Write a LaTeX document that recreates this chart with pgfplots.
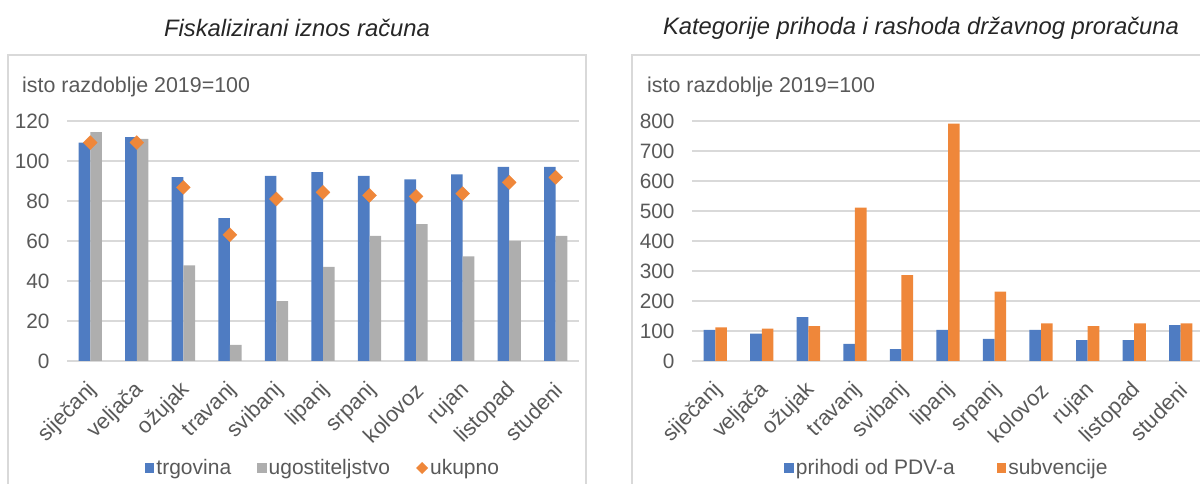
\documentclass[border=0pt]{standalone}
\usepackage{fontspec}
\setmainfont{Liberation Sans}
\usepackage{pgfplots}
\pgfplotsset{compat=1.18}
\definecolor{cblue}{HTML}{4F7CC2}
\definecolor{cgray}{HTML}{AEAEAE}
\definecolor{corange}{HTML}{EF873A}
\definecolor{gridc}{HTML}{D9D9D9}
\definecolor{tickc}{HTML}{595959}
\definecolor{titlec}{HTML}{262626}
\newcommand{\tfont}{\fontsize{20.8}{24}\selectfont}
\newcommand{\xfont}{\fontsize{21.8}{24}\selectfont}
\newcommand{\lfont}{\fontsize{21}{24}\selectfont}
\pgfplotsset{
  panel/.style={
    scale only axis, width=512pt, height=240pt,
    anchor=south west,
    xmin=-0.5, xmax=10.5, ymin=0,
    xtick={0,...,10},
    xticklabels={siječanj,veljača,ožujak,travanj,svibanj,lipanj,srpanj,kolovoz,rujan,listopad,studeni},
    ymajorgrids, grid style={draw=gridc, line width=1.6pt},
    axis line style={draw=none},
    major tick length=0pt,
    /pgf/number format/assume math mode=true,
    tick label style={font=\tfont, text=tickc},
    yticklabel style={xshift=-14pt},
    xticklabel style={font=\xfont, xshift=4pt, yshift=-25pt, rotate=45, anchor=east, inner sep=1pt},
    legend style={draw=none, fill=none, font=\lfont, text=tickc,
      anchor=center, legend columns=-1,
      nodes={inner sep=2pt}},
    clip=false,
  },
  sqleg/.style={legend image code/.code={\fill[#1] (0pt,-4.8pt) rectangle (9.5pt,4.8pt);}},
}
\begin{document}
\begin{tikzpicture}[x=1pt,y=1pt]
\useasboundingbox (0,0) rectangle (1200,484);
\begin{scope}
\clip (0,0) rectangle (1200,484);
\draw[gridc, line width=1.6pt] (8,-20) rectangle (586,429);
\draw[gridc, line width=1.6pt] (632,-20) rectangle (1240,429);
\end{scope}
\node[font=\fontsize{23.8}{26}\selectfont\itshape, text=titlec] at (297,456) {Fiskalizirani iznos računa};
\node[font=\fontsize{23.8}{26}\selectfont\itshape, text=titlec] at (921,456) {Kategorije prihoda i rashoda državnog proračuna};
\node[font=\fontsize{21.4}{24}\selectfont, text=tickc, anchor=base west, inner sep=0pt] at (22,391) {isto razdoblje 2019=100};
\node[font=\fontsize{21.4}{24}\selectfont, text=tickc, anchor=base west, inner sep=0pt] at (647,391) {isto razdoblje 2019=100};

\begin{axis}[panel, at={(67pt,123pt)}, ymax=120, ytick={0,20,...,120},
  legend style={at={(0.500,-0.446)}, /tikz/every even column/.append style={column sep=24pt}}]
\addplot[ybar, bar width=0.25, bar shift=-0.125, fill=cblue, draw=none, sqleg=cblue]
 coordinates {(0,109.2) (1,111.9) (2,91.9) (3,71.4) (4,92.6) (5,94.4) (6,92.6) (7,90.8) (8,93.3) (9,97.1) (10,97.1)};
\addlegendentry{trgovina}
\addplot[ybar, bar width=0.25, bar shift=0.125, fill=cgray, draw=none, sqleg=cgray]
 coordinates {(0,114.4) (1,111.0) (2,47.8) (3,8.1) (4,29.9) (5,47.1) (6,62.6) (7,68.4) (8,52.3) (9,60.1) (10,62.6)};
\addlegendentry{ugostiteljstvo}
\addplot[only marks, mark=square*, mark size=4.9pt, mark options={rotate=45, fill=corange, draw=corange},
 legend image code/.code={\node[fill=corange, rotate=45, minimum size=8.5pt, inner sep=0pt] at (5pt,0pt) {};}]
 coordinates {(0,109.2) (1,109.2) (2,86.8) (3,63.1) (4,81.0) (5,84.3) (6,82.8) (7,82.3) (8,83.7) (9,89.3) (10,91.8)};
\addlegendentry{ukupno}
\end{axis}

\begin{axis}[panel, at={(692pt,123pt)}, ymax=800, ytick={0,100,...,800},
  legend style={at={(0.498,-0.446)}, /tikz/every even column/.append style={column sep=40pt}}]
\addplot[ybar, bar width=0.25, bar shift=-0.125, fill=cblue, draw=none, sqleg=cblue]
 coordinates {(0,103.4) (1,91.3) (2,146.3) (3,57.2) (4,39.6) (5,103.4) (6,73.7) (7,103.4) (8,69.3) (9,69.3) (10,119.9)};
\addlegendentry{prihodi od PDV-a}
\addplot[ybar, bar width=0.25, bar shift=0.125, fill=corange, draw=none, sqleg=corange]
 coordinates {(0,112.2) (1,107.8) (2,116.6) (3,511.6) (4,286) (5,791) (6,231) (7,125.4) (8,116.6) (9,125.4) (10,125.4)};
\addlegendentry{subvencije}
\end{axis}
\end{tikzpicture}
\end{document}
